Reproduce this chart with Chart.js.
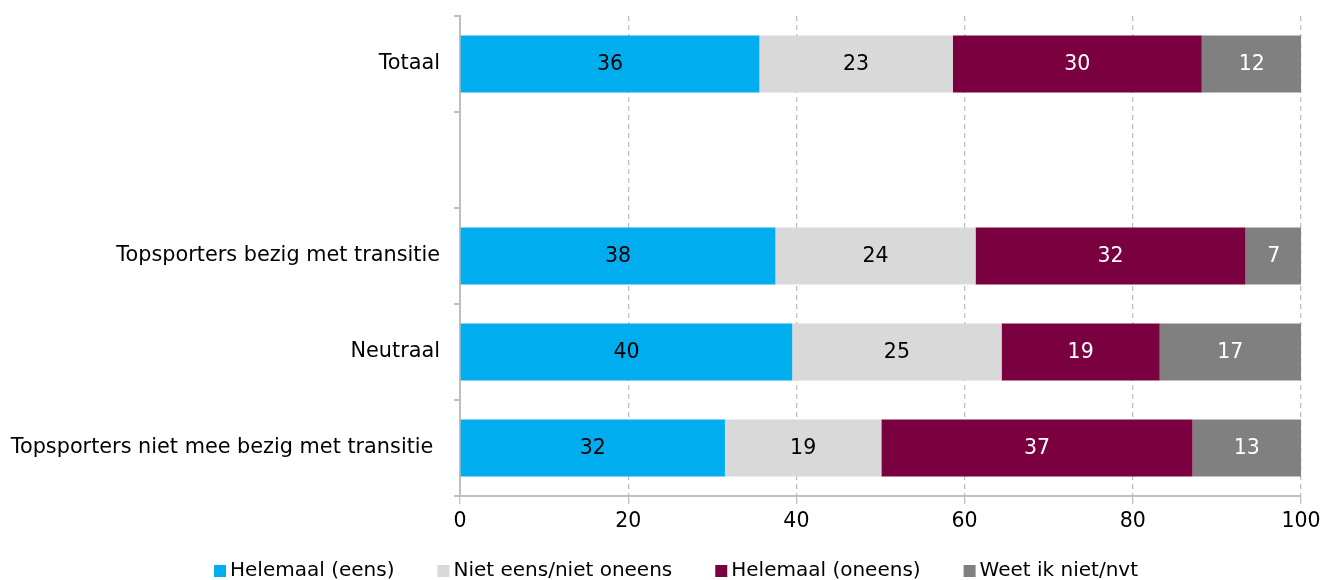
<!DOCTYPE html>
<html lang="nl">
<head>
    <meta charset="UTF-8">
    <title>Topsporters transitie</title>
    <script src="https://cdn.jsdelivr.net/npm/chart.js"></script>
    <style>
        html, body { margin: 0; padding: 0; background: #fff; }
        #wrap { width: 1340px; height: 580px; }
    </style>
</head>
<body>
    <div id="wrap"><canvas id="chart" width="1340" height="580"></canvas></div>

    <script>
        // Data (percentages)
        const categories = ['Totaal', '', 'Topsporters bezig met transitie', 'Neutraal', 'Topsporters niet mee bezig met transitie '];
        const seriesNames = ['Helemaal (eens)', 'Niet eens/niet oneens', 'Helemaal (oneens)', 'Weet ik niet/nvt'];
        const eens = [35.6, null, 37.5, 39.5, 31.5];
        const neutraal = [23.0, null, 23.8, 24.9, 18.6];
        const oneens = [29.6, null, 32.1, 18.8, 37.0];
        const weetNiet = [11.9, null, 6.7, 16.8, 12.9];
        const xTicks = [0, 20, 40, 60, 80, 100];

        const colors = ['#00AEEF', '#D9D9D9', '#7B003F', '#808080'];
        const labelColors = ['#000', '#000', '#fff', '#fff'];
        const FONT = "'DejaVu Sans', Verdana, sans-serif";

        // Draw the rounded value in the middle of each bar segment
        const barLabels = {
            id: 'barLabels',
            afterDatasetsDraw(chart) {
                const ctx = chart.ctx;
                ctx.save();
                ctx.font = '20.5px ' + FONT;
                ctx.textAlign = 'center';
                ctx.textBaseline = 'middle';
                chart.data.datasets.forEach((ds, i) => {
                    chart.getDatasetMeta(i).data.forEach((bar, j) => {
                        const v = ds.data[j];
                        if (v == null) return;
                        ctx.fillStyle = labelColors[i];
                        ctx.fillText(Math.round(v), (bar.x + bar.base) / 2, bar.y + 1);
                    });
                });
                ctx.restore();
            }
        };

        // Legend at the bottom: small square, tight gap, text
        const bottomLegend = {
            id: 'bottomLegend',
            afterDraw(chart) {
                const ctx = chart.ctx;
                ctx.save();
                ctx.font = '20px ' + FONT;
                const box = 12, gap = 4, spacing = 43;
                const widths = seriesNames.map(n => ctx.measureText(n).width);
                const total = widths.reduce((a, w) => a + box + gap + w, 0) + spacing * (seriesNames.length - 1);
                let x = 676 - total / 2;
                const y = 571;
                ctx.textBaseline = 'middle';
                seriesNames.forEach((n, i) => {
                    ctx.fillStyle = colors[i];
                    ctx.fillRect(x, y - box / 2, box, box);
                    ctx.fillStyle = '#000';
                    ctx.fillText(n, x + box + gap, y);
                    x += box + gap + widths[i] + spacing;
                });
                ctx.restore();
            }
        };

        const ctx = document.getElementById('chart').getContext('2d');
        new Chart(ctx, {
            type: 'bar',
            data: {
                labels: categories,
                datasets: [eens, neutraal, oneens, weetNiet].map((d, i) => ({
                    label: seriesNames[i],
                    data: d,
                    backgroundColor: colors[i],
                    borderWidth: 0,
                    categoryPercentage: 1,
                    barPercentage: 0.595
                }))
            },
            options: {
                indexAxis: 'y',
                responsive: false,
                animation: false,
                layout: { padding: { top: 16, right: 39, left: 0, bottom: 0 } },
                scales: {
                    x: {
                        stacked: true,
                        min: 0,
                        max: 100,
                        afterBuildTicks: s => { s.ticks = xTicks.map(v => ({ value: v })); },
                        afterFit: s => { s.height = 84; s.paddingLeft = 0; s.paddingRight = 0; },
                        grid: {
                            color: '#BFBFBF',
                            lineWidth: 1.3,
                            tickLength: 8,
                            tickColor: '#BFBFBF',
                            tickBorderDash: []
                        },
                        border: { display: true, color: '#BFBFBF', width: 2, dash: [5, 4] },
                        ticks: { color: '#000', font: { family: FONT, size: 20.5 }, padding: 5 }
                    },
                    y: {
                        stacked: true,
                        afterFit: s => { s.width = 460; s.paddingTop = 0; s.paddingBottom = 0; },
                        grid: {
                            drawOnChartArea: false,
                            tickLength: 6,
                            tickColor: '#BFBFBF',
                            lineWidth: 2
                        },
                        border: { display: true, color: '#BFBFBF', width: 2 },
                        ticks: { color: '#000', font: { family: FONT, size: 20.8 }, padding: 14 }
                    }
                },
                plugins: {
                    legend: { display: false },
                    tooltip: { enabled: false }
                }
            },
            plugins: [barLabels, bottomLegend]
        });
    </script>
</body>
</html>
